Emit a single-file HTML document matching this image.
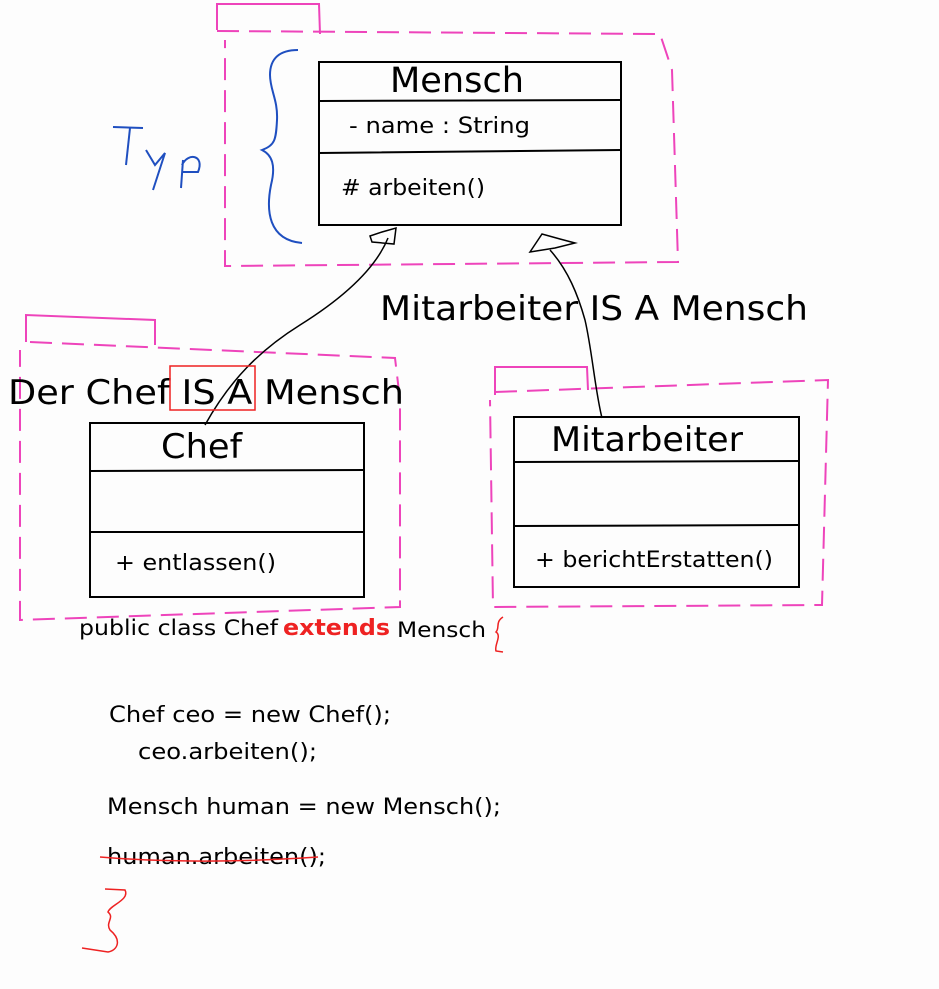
<!DOCTYPE html>
<html><head><meta charset="utf-8"><style>
html,body{margin:0;padding:0;background:#fdfdfd;}
svg{display:block}
text{font-family:"DejaVu Sans","Liberation Sans",sans-serif;fill:#000}
</style></head><body>
<svg width="939" height="989" viewBox="0 0 939 989" xmlns="http://www.w3.org/2000/svg">
<rect width="939" height="989" fill="#fdfdfd"/>
<g fill="none" stroke="#ee44bb" stroke-width="2" stroke-dasharray="22,10">
<path d="M217,30 L217,4 L319,4 L320,34" stroke-dasharray="none"/>
<path d="M217,31 L660,34 L672,70 L678,262 L225,266 L225,40"/>
<path d="M26,342 L26,315 L155,320 L155,345" stroke-dasharray="none"/>
<path d="M30,342 L395,358 L400,400 L400,607 L20,620 L20,350"/>
<path d="M495,395 L495,367 L587,367 L588,390" stroke-dasharray="none"/>
<path d="M495,392 L828,380 L822,605 L493,607 L490,400"/>
</g>
<path d="M298,50 C280,50 270,58 270,75 C270,90 278,100 277,120 C276,140 275,145 262,150 C272,155 276,165 271,185 C266,210 268,240 302,243" fill="none" stroke="#1f4fc0" stroke-width="2"/>
<g fill="none" stroke="#1f4fc0" stroke-width="2">
<path d="M113,127 L143,128"/><path d="M130,128 L126,165"/>
<path d="M146,150 L155,165 L165,153 L153,190"/>
<path d="M183,160 L181,188 M182,165 C188,152 205,155 198,172 L183,172"/>
</g>
<g fill="none" stroke="#000" stroke-width="2">
<rect x="319" y="62" width="302" height="163"/>
<path d="M319,101 L621,100 M319,153 L621,150"/>
<rect x="90" y="423" width="274" height="174"/>
<path d="M90,471 L364,470 M90,532 L364,532"/>
<rect x="514" y="417" width="285" height="170"/>
<path d="M514,462 L799,461 M514,526 L799,525"/>
</g>
<g fill="none" stroke="#000" stroke-width="1.5">
<path d="M205,425 C230,380 260,350 300,325 C340,300 375,270 388,238"/>
<path d="M370,236 L382,232 L396,228 L394,244 L372,242 Z"/>
<path d="M602,418 C595,390 592,350 585,320 C578,295 568,270 550,250"/>
<path d="M530,252 L542,234 L560,239 L575,243 L555,248 Z"/>
</g>
<g lengthAdjust="spacingAndGlyphs">
<text x="390" y="92" font-size="35" textLength="134" lengthAdjust="spacingAndGlyphs">Mensch</text>
<text x="349" y="133" font-size="22" textLength="181" lengthAdjust="spacingAndGlyphs">- name : String</text>
<text x="341" y="195" font-size="22" textLength="144" lengthAdjust="spacingAndGlyphs"># arbeiten()</text>
<text x="8" y="404" font-size="34" textLength="396" lengthAdjust="spacingAndGlyphs">Der Chef IS A Mensch</text>
<text x="161" y="458" font-size="34" textLength="81" lengthAdjust="spacingAndGlyphs">Chef</text>
<text x="115" y="570" font-size="22" textLength="161" lengthAdjust="spacingAndGlyphs">+ entlassen()</text>
<text x="380" y="320" font-size="34" textLength="428" lengthAdjust="spacingAndGlyphs">Mitarbeiter IS A Mensch</text>
<text x="551" y="451" font-size="34" textLength="192" lengthAdjust="spacingAndGlyphs">Mitarbeiter</text>
<text x="535" y="567" font-size="22" textLength="238" lengthAdjust="spacingAndGlyphs">+ berichtErstatten()</text>
<text x="79" y="635" font-size="21" textLength="199" lengthAdjust="spacingAndGlyphs">public class Chef</text>
<text x="283" y="635" font-size="22" font-weight="bold" style="fill:#ee2222" textLength="107" lengthAdjust="spacingAndGlyphs">extends</text>
<text x="397" y="637" font-size="21" textLength="89" lengthAdjust="spacingAndGlyphs">Mensch</text>
<text x="109" y="722" font-size="22" textLength="282" lengthAdjust="spacingAndGlyphs">Chef ceo = new Chef();</text>
<text x="138" y="759" font-size="22" textLength="179" lengthAdjust="spacingAndGlyphs">ceo.arbeiten();</text>
<text x="107" y="814" font-size="22" textLength="394" lengthAdjust="spacingAndGlyphs">Mensch human = new Mensch();</text>
<text x="107" y="864" font-size="22" textLength="219" lengthAdjust="spacingAndGlyphs">human.arbeiten();</text>
</g>
<rect x="170" y="366" width="85" height="44" fill="none" stroke="#ee2222" stroke-width="1.5"/>
<path d="M503,617 C495,622 500,628 496,632 C502,636 494,645 496,651 L503,652" fill="none" stroke="#ee2222" stroke-width="1.5"/>
<path d="M100,857 C160,862 230,863 318,857" fill="none" stroke="#ee2222" stroke-width="1.5"/>
<path d="M105,889 L125,890 C130,900 110,905 108,912 C115,918 105,922 110,930 C122,940 118,950 108,952 L82,948" fill="none" stroke="#ee2222" stroke-width="1.5"/>
</svg>
</body></html>
